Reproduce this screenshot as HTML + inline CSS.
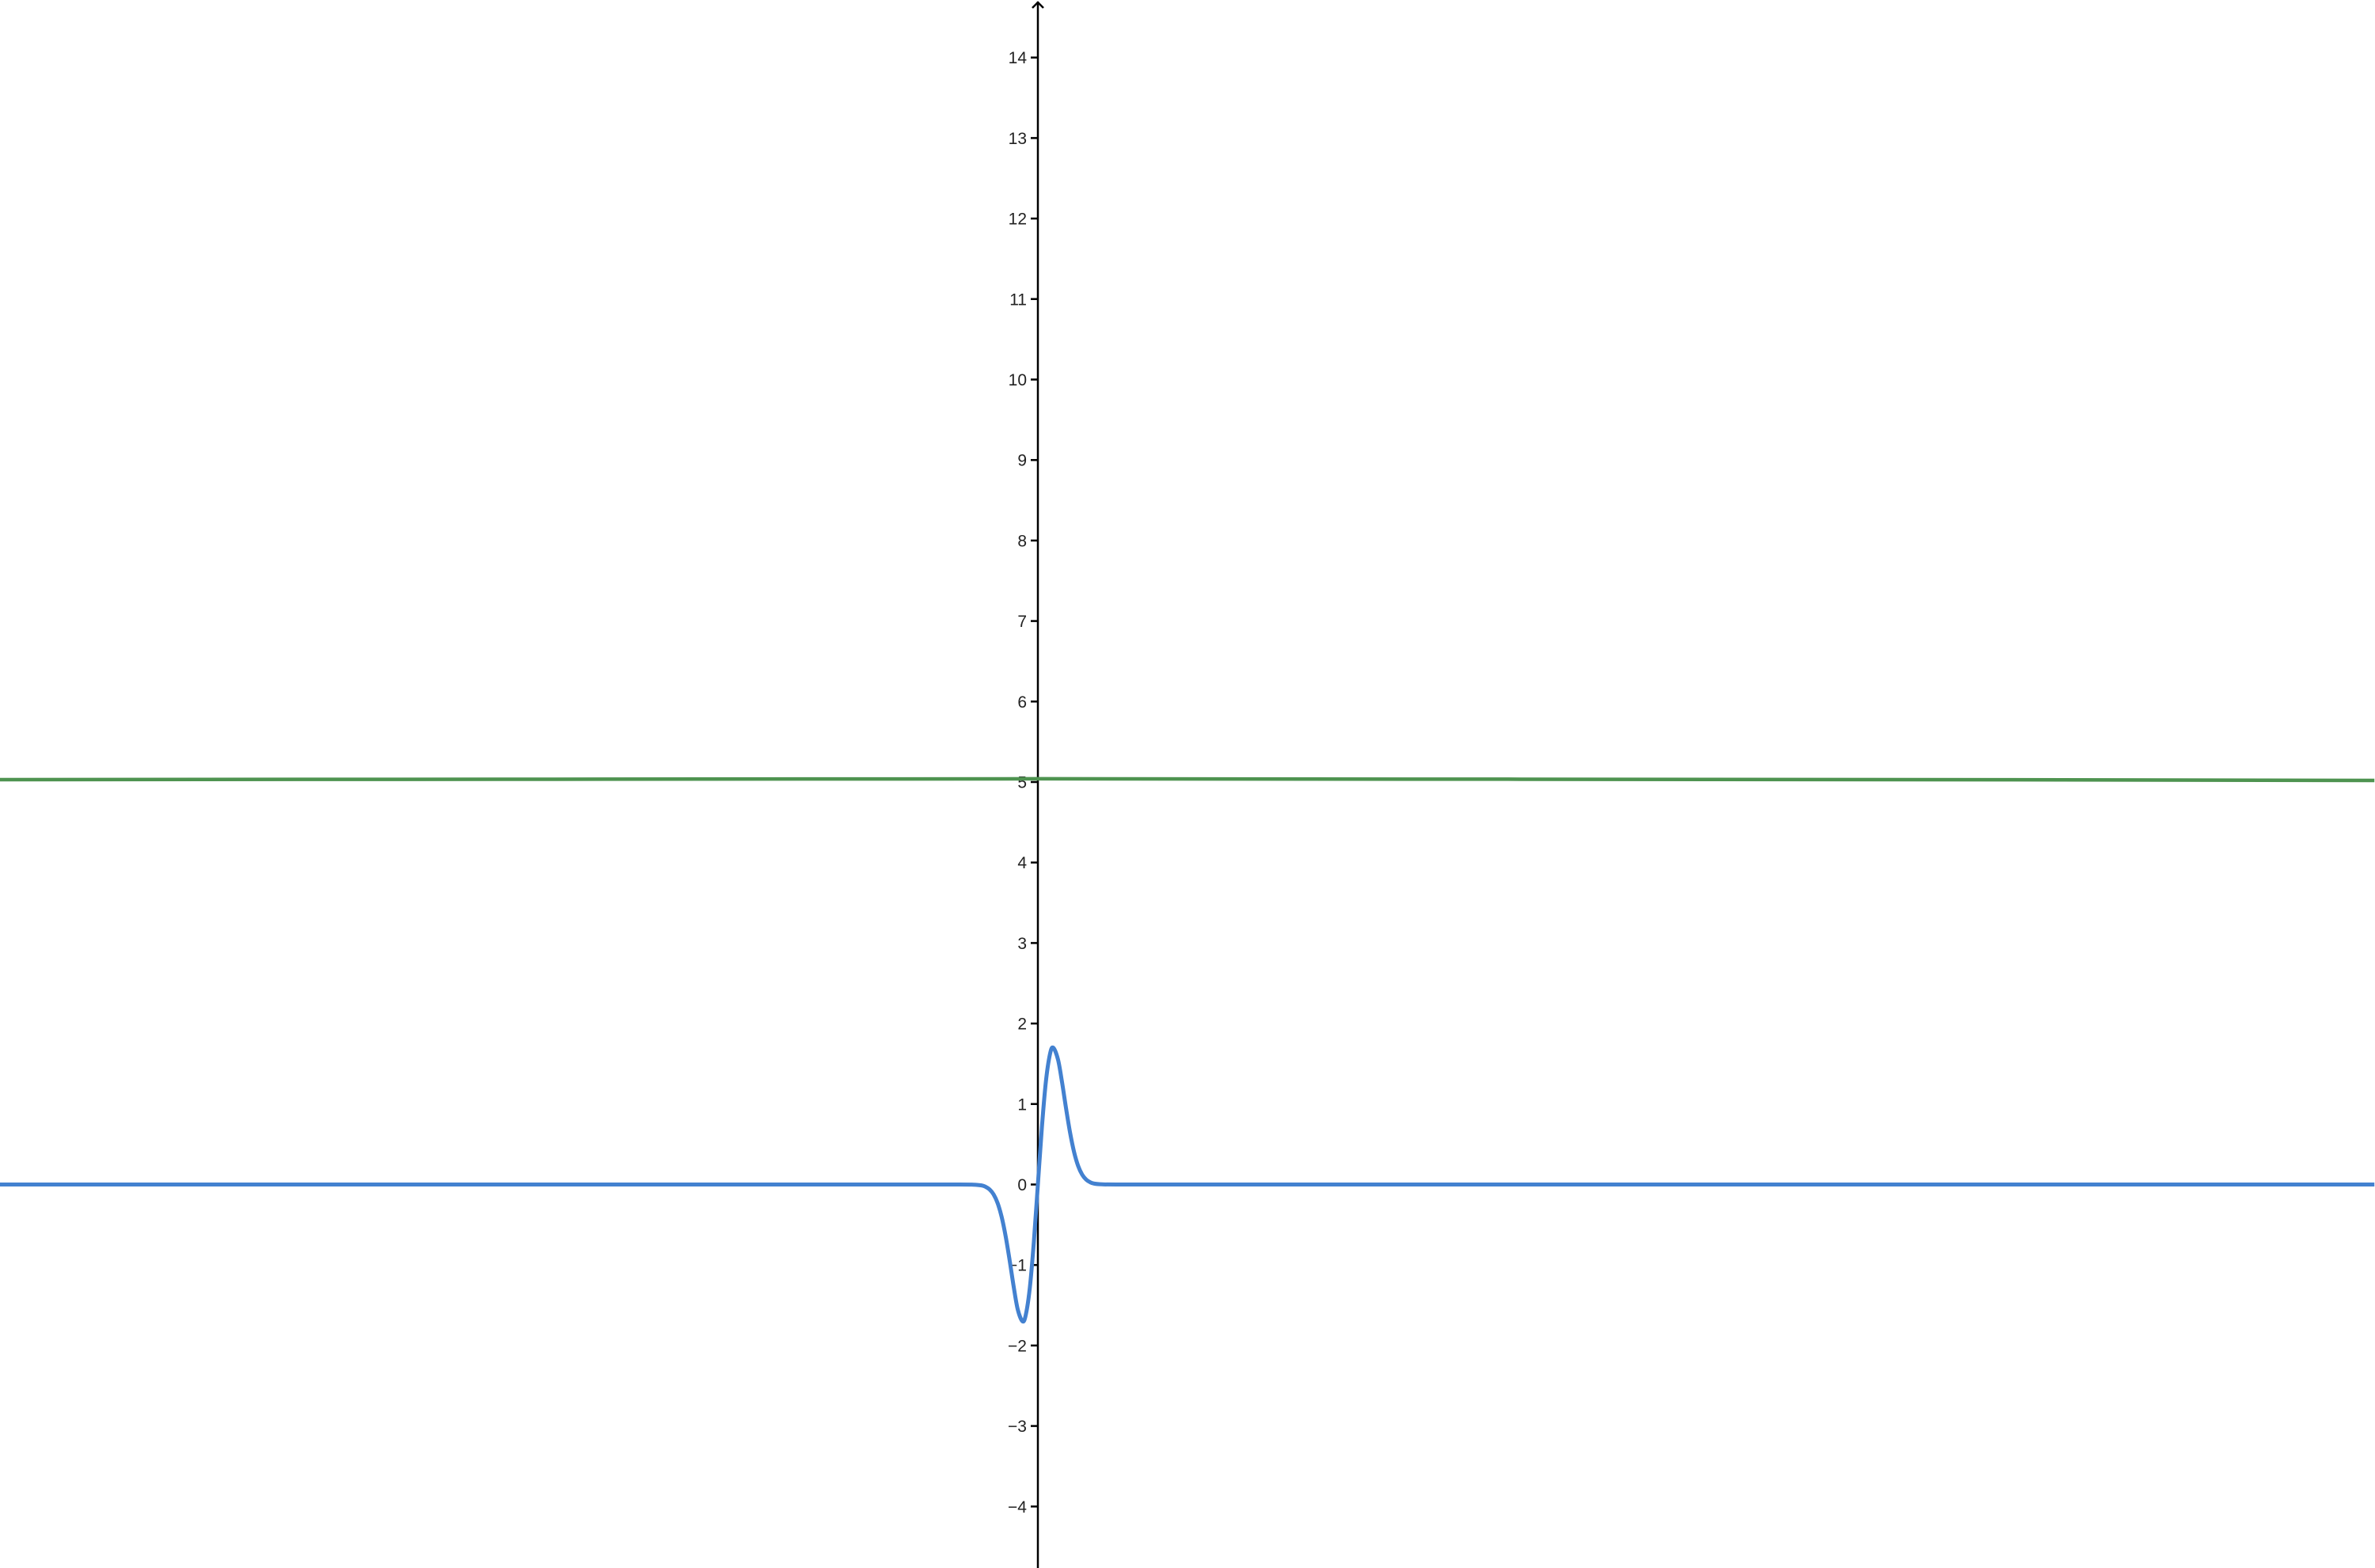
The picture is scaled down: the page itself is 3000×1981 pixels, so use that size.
<!DOCTYPE html>
<html><head><meta charset="utf-8"><style>
html,body{margin:0;padding:0;background:#fff;}
svg{display:block;}
text{font-family:"Liberation Sans",Arial,sans-serif;font-size:21px;fill:#222;}
</style></head><body>
<svg id="chart" width="3000" height="1981" viewBox="0 0 3000 1981" xmlns="http://www.w3.org/2000/svg">
<g id="axes"></g>
<g id="series"></g>
</svg>
<script>
const yTicks = [-4,-3,-2,-1,0,1,2,3,4,5,6,7,8,9,10,11,12,13,14];
const yTickLabels = ["\u22124","\u22123","\u22122","\u22121","0","1","2","3","4","5","6","7","8","9","10","11","12","13","14"];
const blueX = [-12.9,-2,-1,-0.8,-0.7,-0.65,-0.6,-0.55,-0.5,-0.45,-0.4,-0.35,-0.3,-0.25,-0.19,-0.15,-0.1,-0.05,0,0.05,0.1,0.15,0.19,0.25,0.3,0.35,0.4,0.45,0.5,0.55,0.6,0.65,0.7,0.8,1,2,16.6];
const blueY = [0,0,0,-0.002,-0.011,-0.028,-0.061,-0.123,-0.231,-0.402,-0.644,-0.946,-1.272,-1.552,-1.70,-1.619,-1.283,-0.712,0,0.712,1.283,1.619,1.70,1.552,1.272,0.946,0.644,0.402,0.231,0.123,0.061,0.028,0.011,0.002,0,0,0];
const greenX = [-12.9,-6,0,6,12,16.6];
const greenY = [5.03,5.035,5.04,5.035,5.028,5.02];

const X0 = 1311, Y0 = 1496.5, UNIT = 101.7;
const sx = v => X0 + v*UNIT;
const sy = v => Y0 - v*UNIT;
const NS = "http://www.w3.org/2000/svg";
const axes = document.getElementById('axes');
const series = document.getElementById('series');
function mk(tag, attrs, parent){const e=document.createElementNS(NS,tag);for(const k in attrs)e.setAttribute(k,attrs[k]);parent.appendChild(e);return e;}

const yAxis = mk('line',{x1:X0,y1:2,x2:X0,y2:1981,stroke:'#000','stroke-width':2.5},axes);


const arrow = mk('path',{d:`M${X0-7},${10} L${X0},${3} L${X0+7},${10}`,fill:'none',stroke:'#000','stroke-width':2.5},axes);



yTicks.forEach((t,i)=>{
  const y = sy(t);
  const tk = mk('line',{x1:X0-9,y1:y,x2:X0,y2:y,stroke:'#000','stroke-width':2.5},axes);
  
  
  const lb = mk('text',{x:X0-14,y:y+7.5,'text-anchor':'end'},axes);
  lb.textContent = yTickLabels[i];
  
  
});

function pathFrom(xs,ys){return xs.map((x,i)=>(i?'L':'M')+sx(x).toFixed(2)+','+sy(ys[i]).toFixed(2)).join(' ');}
function smoothPath(xs,ys){
  const p=xs.map((x,i)=>[sx(x),sy(ys[i])]);
  let d=`M${p[0][0]},${p[0][1]}`;
  for(let i=0;i<p.length-1;i++){
    const p0=p[Math.max(0,i-1)],p1=p[i],p2=p[i+1],p3=p[Math.min(p.length-1,i+2)];
    const c1x=p1[0]+(p2[0]-p0[0])/6,c1y=p1[1]+(p2[1]-p0[1])/6;
    const c2x=p2[0]-(p3[0]-p1[0])/6,c2y=p2[1]-(p3[1]-p1[1])/6;
    const dx=p2[0]-p1[0];
    if(dx>60){d+=` L${p2[0]},${p2[1]}`;}
    else d+=` C${c1x},${c1y} ${c2x},${c2y} ${p2[0]},${p2[1]}`;
  }
  return d;
}
const g = mk('path',{d:pathFrom(greenX,greenY),fill:'none',stroke:'#4e9350','stroke-width':4.5},series);


const b = mk('path',{d:smoothPath(blueX,blueY),fill:'none',stroke:'#4381d0','stroke-width':5,'stroke-linejoin':'round'},series);


</script>
</body></html>
